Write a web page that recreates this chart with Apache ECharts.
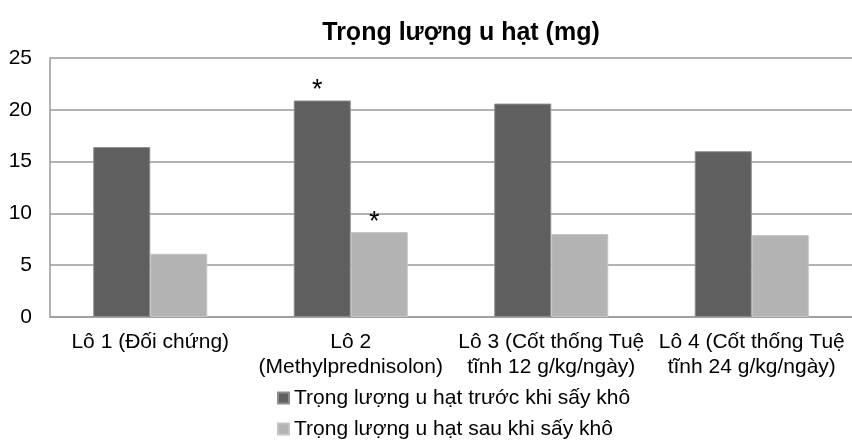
<!DOCTYPE html>
<html>
<head>
<meta charset="utf-8">
<script src="https://cdn.jsdelivr.net/npm/echarts@6/dist/echarts.min.js"></script>
<style>
html,body{margin:0;padding:0;background:#fff;}
#chart{width:852px;height:440px;}
</style>
</head>
<body>
<div id="chart"></div>
<script>
const titleText = 'Trọng lượng u hạt (mg)';
const categories = [
  'Lô 1 (Đối chứng)',
  'Lô 2\n(Methylprednisolon)',
  'Lô 3 (Cốt thống Tuệ\ntĩnh 12 g/kg/ngày)',
  'Lô 4 (Cốt thống Tuệ\ntĩnh 24 g/kg/ngày)'
];
const seriesNames = ['Trọng lượng u hạt trước khi sấy khô', 'Trọng lượng u hạt sau khi sấy khô'];
const beforeDry = [16.4, 20.9, 20.6, 16.0];
const afterDry = [6.1, 8.2, 8.0, 7.9];
const beforeMarks = ['', '*', '', ''];
const afterMarks = ['', '*', '', ''];
const yMin = 0, yMax = 25, yStep = 5;

const FONT = '"Liberation Sans", Arial, sans-serif';

function withMarks(values, marks) {
  return values.map((v, i) => marks[i] ? {
    value: v,
    label: {
      show: true, formatter: marks[i], position: 'top', distance: 0,
      offset: [-5, 4], fontSize: 27, color: '#000', fontFamily: FONT
    }
  } : v);
}

const legendText = {fontFamily: FONT, fontSize: 21, color: '#000', lineHeight: 22};

const chart = echarts.init(document.getElementById('chart'), null, {renderer: 'canvas'});
chart.setOption({
  animation: false,
  backgroundColor: '#fff',
  textStyle: {fontFamily: FONT},
  title: {
    text: titleText,
    left: 456, top: 16, textAlign: 'center',
    textStyle: {fontFamily: FONT, fontSize: 25, fontWeight: 'bold', color: '#000'}
  },
  legend: [
    {
      orient: 'horizontal', left: 272, top: 382,
      itemWidth: 11, itemHeight: 11, icon: 'rect',
      data: [seriesNames[0]], textStyle: legendText
    },
    {
      orient: 'horizontal', left: 272, top: 413,
      itemWidth: 11, itemHeight: 11, icon: 'rect',
      data: [seriesNames[1]], textStyle: legendText
    }
  ],
  grid: {left: 50, right: -2, top: 58, bottom: 123, containLabel: false},
  xAxis: {
    type: 'category',
    data: categories,
    axisLine: {show: true, lineStyle: {color: '#9a9a9a', width: 1.5}},
    axisTick: {show: false},
    axisLabel: {
      interval: 0, margin: 13, fontSize: 21, lineHeight: 25,
      color: '#000', fontFamily: FONT, align: 'center'
    }
  },
  yAxis: {
    type: 'value',
    min: yMin, max: yMax, interval: yStep,
    axisLine: {show: true, lineStyle: {color: '#9a9a9a', width: 1.5}},
    axisTick: {show: false},
    axisLabel: {margin: 18, fontSize: 21, color: '#000', fontFamily: FONT},
    splitLine: {show: true, lineStyle: {color: '#9a9a9a', width: 1.5}}
  },
  series: [
    {
      name: seriesNames[0], type: 'bar',
      data: withMarks(beforeDry, beforeMarks),
      barWidth: 57, barGap: '0%',
      itemStyle: {color: '#5f5f5f', borderColor: '#8c8c8c', borderWidth: 1}
    },
    {
      name: seriesNames[1], type: 'bar',
      data: withMarks(afterDry, afterMarks),
      barWidth: 57, barGap: '0%',
      itemStyle: {color: '#b3b3b3', borderColor: '#c4c4c4', borderWidth: 1}
    }
  ]
});
</script>
</body>
</html>
